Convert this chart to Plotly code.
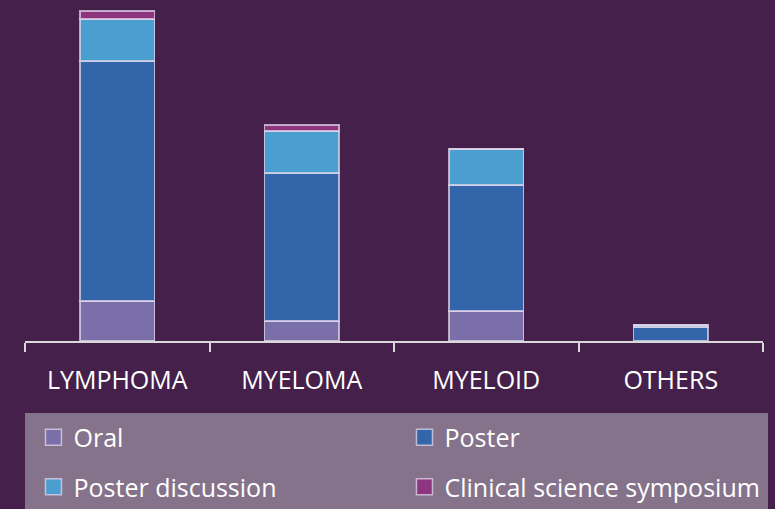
import plotly.graph_objects as go

# categories and stacked series (session counts)
categories = ["LYMPHOMA", "MYELOMA", "MYELOID", "OTHERS"]
oral = [20, 10, 15, 0]
poster = [120, 74, 63, 7]
poster_discussion = [21, 21, 18, 1]
clinical_symposium = [4, 3, 0, 0]

series_names = ["Oral", "Poster", "Poster discussion", "Clinical science symposium"]
series_values = [oral, poster, poster_discussion, clinical_symposium]
series_colors = ["#7b6faa", "#3365aa", "#4a9ed0", "#8e3580"]

BG = "#44204b"
EDGE = "rgba(225,215,235,0.75)"
FONT = "Open Sans"

# one small legend per entry: 2 columns x 2 rows under the axis (container coords)
legend_ids = ["legend", "legend2", "legend3", "legend4"]
legend_pos = [(0.0432, 0.1405), (0.5219, 0.1405), (0.0432, 0.0432), (0.5219, 0.0432)]

fig = go.Figure()

for name, values, color, leg in zip(series_names, series_values, series_colors, legend_ids):
    fig.add_trace(go.Bar(
        x=categories, y=values, name=name,
        marker=dict(color=color, line=dict(color=EDGE, width=1.5)),
        legendgroup=name, showlegend=False,
    ))
    # legend-only entry, so the swatch can be larger than the default bar one
    fig.add_trace(go.Scatter(
        x=[None], y=[None], mode="markers", name=name,
        marker=dict(symbol="square", size=16, color=color,
                    line=dict(color=EDGE, width=1.5)),
        legendgroup=name, legend=leg, showlegend=True,
    ))

# legend background panel
fig.add_shape(type="rect", xref="paper", yref="paper",
              x0=0, x1=1.0068, y0=-0.52, y1=-0.2175,
              fillcolor="#85738b", line_width=0, layer="below")

legends = {}
for leg, (lx, ly) in zip(legend_ids, legend_pos):
    legends[leg] = dict(
        orientation="h", xref="container", yref="container",
        xanchor="left", yanchor="middle", x=lx, y=ly,
        bgcolor="rgba(0,0,0,0)",
        font=dict(family=FONT, size=25, color="white"),
    )

fig.update_layout(
    barmode="stack",
    bargap=0.594,
    width=775, height=509,
    margin=dict(l=25, r=12, t=10, b=168),
    paper_bgcolor=BG, plot_bgcolor=BG,
    font=dict(family=FONT, color="white"),
    xaxis=dict(
        type="category", showline=True, linecolor="#d9d9d9", linewidth=2,
        ticks="outside", tickson="boundaries", ticklen=9, tickwidth=2,
        tickcolor="#d9d9d9", showgrid=False, zeroline=False,
        tickfont=dict(family=FONT, size=25, color="white"),
        ticklabelstandoff=16,
    ),
    yaxis=dict(range=[0, 165.5], visible=False, showgrid=False, zeroline=False),
    **legends,
)

fig.write_html("out.html", config={"displayModeBar": False},
               post_script="document.body.style.margin='0';")
